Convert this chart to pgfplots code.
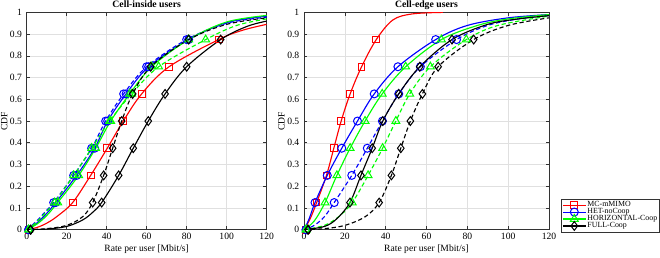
\documentclass[border=0pt]{standalone}
\usepackage{fontspec}
\setmainfont{Liberation Serif}
\usepackage{pgfplots}
\pgfplotsset{compat=1.18}
\pgfplotsset{
 cdfaxis/.style={
  scale only axis, height=163pt, xmin=0, xmax=120, ymin=0, ymax=1,
  xtick={0,20,40,60,80,100,120},
  ytick={0,0.1,0.2,0.3,0.4,0.5,0.6,0.7,0.8,0.9,1},
  yticklabels={0,0.1,0.2,0.3,0.4,0.5,0.6,0.7,0.8,0.9,1},
  grid=major, major grid style={black!12, line width=0.4pt},
  axis line style={black!80, line width=0.45pt},
  tick style={black!80, line width=0.45pt}, major tick length=2.5pt,
  tick align=inside,
  font=\fontsize{7.2}{8.5}\selectfont,
  /pgf/number format/assume math mode=true,
  xlabel={Rate per user [Mbit/s]}, ylabel={CDF},
  title style={font=\fontsize{7.3}{8.5}\selectfont\bfseries, yshift=-7.5pt, text height=5pt, text depth=1.6pt},
  xlabel style={yshift=3pt}, ylabel style={yshift=-5pt},
  xticklabel style={yshift=1pt},
  every axis plot/.append style={line width=0.85pt},
 },
 ln/.style={smooth, tension=0.55, no markers, forget plot},
 mk/.style={only marks, forget plot, mark options={solid, line width=0.75pt}},
 dsh/.style={dash pattern=on 3.2pt off 2pt},
 msq/.style={mark=square, mark size=2.5pt},
 mci/.style={mark=o, mark size=3pt},
 mtr/.style={mark=triangle, mark size=3.4pt},
 mdi/.style={mark=diamond, mark size=3.3pt},
}
\begin{document}
\begin{tikzpicture}
\path[use as bounding box] (-20pt,-20.5pt) rectangle (475pt,172.3pt);
% ---------------- Cell-inside ----------------
\begin{axis}[cdfaxis, width=180pt, title={Cell-inside users}, at={(0pt,0pt)}, anchor=south west]
% MC-mMIMO
\addplot[red, ln] coordinates {(0,0) (5,0.01) (10,0.03) (15,0.06) (23,0.125) (32,0.25) (40.3,0.375) (48.3,0.5) (57.5,0.625) (71.2,0.75) (96,0.875) (108,0.918) (120,0.945)};
\addplot[red, mk, msq] coordinates {(1,0) (23,0.125) (32,0.25) (40.3,0.375) (48.3,0.5) (57.5,0.625) (71.2,0.75) (96,0.875)};
% HET-noCoop solid
\addplot[blue, ln] coordinates {(0,0) (5,0.03) (10,0.075) (14.5,0.125) (25,0.25) (34,0.375) (40.5,0.5) (49.7,0.625) (61,0.75) (81,0.875) (100,0.953) (120,0.983)};
\addplot[blue, mk, mci] coordinates {(1,0) (14.5,0.125) (25,0.25) (34,0.375) (40.5,0.5) (49.7,0.625) (61,0.75) (81,0.875)};
% HET-noCoop dashed
\addplot[blue, ln, dsh] coordinates {(0,0) (5,0.04) (10,0.09) (13.5,0.125) (23.5,0.25) (32.5,0.375) (39.5,0.5) (48.5,0.625) (60,0.75) (80,0.875) (100,0.95) (120,0.978)};
\addplot[blue, mk, mci] coordinates {(1,0) (13.5,0.125) (23.5,0.25) (32.5,0.375) (39.5,0.5) (48.5,0.625) (60,0.75) (80,0.875)};
% HORIZONTAL-Coop solid
\addplot[green, ln] coordinates {(0,0) (5,0.025) (10,0.065) (15.5,0.125) (26,0.25) (34.5,0.375) (42,0.5) (51.5,0.625) (62.5,0.75) (81,0.875) (100,0.956) (120,0.986)};
\addplot[green, mk, mtr] coordinates {(1,0) (15.5,0.125) (26,0.25) (34.5,0.375) (42,0.5) (51.5,0.625) (62.5,0.75) (81,0.875)};
% HORIZONTAL-Coop dashed
\addplot[green, ln, dsh] coordinates {(0,0) (5,0.035) (10,0.085) (14,0.125) (23.5,0.25) (32.5,0.375) (41.5,0.5) (52.5,0.625) (66,0.75) (89.5,0.875) (105,0.94) (120,0.97)};
\addplot[green, mk, mtr] coordinates {(1,0) (14,0.125) (23.5,0.25) (32.5,0.375) (41.5,0.5) (52.5,0.625) (66,0.75) (89.5,0.875)};
% FULL-Coop dashed
\addplot[black, ln, dsh] coordinates {(0,0) (10,0.005) (20,0.02) (28,0.06) (33,0.125) (38.5,0.25) (43,0.375) (47.5,0.5) (53,0.625) (62,0.75) (81,0.875) (100,0.945) (120,0.975)};
\addplot[black, mk, mdi] coordinates {(2,0) (33,0.125) (38.5,0.25) (43,0.375) (47.5,0.5) (53,0.625) (62,0.75) (81,0.875)};
% FULL-Coop solid
\addplot[black, ln] coordinates {(0,0) (10,0.003) (20,0.015) (28,0.045) (33,0.08) (37.5,0.125) (46,0.25) (53.3,0.375) (60.8,0.5) (69.2,0.625) (80,0.75) (97,0.875) (110,0.935) (120,0.96)};
\addplot[black, mk, mdi] coordinates {(2,0) (37.5,0.125) (46,0.25) (53.3,0.375) (60.8,0.5) (69.2,0.625) (80,0.75) (97,0.875)};
\end{axis}
% ---------------- Cell-edge ----------------
\begin{axis}[cdfaxis, width=183.75pt, title={Cell-edge users}, at={(208pt,0pt)}, anchor=south west,
  legend style={at={(1.049,-0.011)}, anchor=south west, draw=black!80, line width=0.45pt,
    font=\fontsize{5.9}{6.5}\selectfont, inner sep=0.8pt, row sep=-2pt,
    nodes={inner sep=0.9pt}},
  legend cell align=left]
\addlegendimage{red, line width=0.85pt, msq, mark options={solid, line width=0.75pt}}
\addlegendentry{MC-mMIMO}
\addlegendimage{blue, line width=0.85pt, mci, mark options={solid, line width=0.75pt}}
\addlegendentry{HET-noCoop}
\addlegendimage{green, line width=0.85pt, mtr, mark options={solid, line width=0.75pt}}
\addlegendentry{HORIZONTAL-Coop}
\addlegendimage{black, line width=0.85pt, mdi, mark options={solid, line width=0.75pt}}
\addlegendentry{FULL-Coop}
% MC-mMIMO
\addplot[red, ln] coordinates {(0,0) (3,0.05) (6.2,0.125) (11,0.25) (14.6,0.375) (18.2,0.5) (22.6,0.625) (28.2,0.75) (35.4,0.875) (43.5,0.965) (53,0.993) (68,1)};
\addplot[red, mk, msq] coordinates {(1,0) (6.2,0.125) (11,0.25) (14.6,0.375) (18.2,0.5) (22.6,0.625) (28.2,0.75) (35.4,0.875)};
% HET-noCoop solid
\addplot[blue, ln] coordinates {(0,0) (2.5,0.05) (5.4,0.125) (11.4,0.25) (18.5,0.375) (26.2,0.5) (34.4,0.625) (46,0.75) (64.5,0.875) (80,0.94) (100,0.975) (120,0.99)};
\addplot[blue, mk, mci] coordinates {(1,0) (5.4,0.125) (11.4,0.25) (18.5,0.375) (26.2,0.5) (34.4,0.625) (46,0.75) (64.5,0.875)};
% HET-noCoop dashed
\addplot[blue, ln, dsh] coordinates {(0,0) (5,0.02) (10,0.06) (14.8,0.125) (23.4,0.25) (31,0.375) (38.4,0.5) (46.4,0.625) (57,0.75) (74.7,0.875) (90,0.94) (105,0.97) (120,0.985)};
\addplot[blue, mk, mci] coordinates {(1,0) (14.8,0.125) (23.4,0.25) (31,0.375) (38.4,0.5) (46.4,0.625) (57,0.75) (74.7,0.875)};
% HORIZONTAL-Coop solid
\addplot[green, ln] coordinates {(0,0) (5,0.04) (10.3,0.125) (16.1,0.25) (22.6,0.375) (29.9,0.5) (38.3,0.625) (49.8,0.75) (67.3,0.875) (85,0.94) (100,0.97) (120,0.99)};
\addplot[green, mk, mtr] coordinates {(1,0) (10.3,0.125) (16.1,0.25) (22.6,0.375) (29.9,0.5) (38.3,0.625) (49.8,0.75) (67.3,0.875)};
% HORIZONTAL-Coop dashed
\addplot[green, ln, dsh] coordinates {(0,0) (10,0.02) (17,0.06) (23.6,0.125) (31.4,0.25) (38.5,0.375) (45,0.5) (51.8,0.625) (61.9,0.75) (79.5,0.875) (95,0.94) (120,0.983)};
\addplot[green, mk, mtr] coordinates {(1,0) (23.6,0.125) (31.4,0.25) (38.5,0.375) (45,0.5) (51.8,0.625) (61.9,0.75) (79.5,0.875)};
% FULL-Coop solid
\addplot[black, ln] coordinates {(0,0) (10,0.015) (16,0.05) (22.5,0.125) (27.9,0.25) (33.4,0.375) (38.6,0.5) (46.4,0.625) (56.7,0.75) (72.5,0.875) (90,0.945) (105,0.97) (120,0.985)};
\addplot[black, mk, mdi] coordinates {(2,0) (22.5,0.125) (27.9,0.25) (33.4,0.375) (38.6,0.5) (46.4,0.625) (56.7,0.75) (72.5,0.875)};
% FULL-Coop dashed
\addplot[black, ln, dsh] coordinates {(0,0) (10,0.005) (20,0.02) (30,0.06) (36.8,0.125) (42.8,0.25) (47.4,0.375) (52.1,0.5) (58,0.625) (65.7,0.75) (83.1,0.875) (100,0.94) (120,0.975)};
\addplot[black, mk, mdi] coordinates {(2,0) (36.8,0.125) (42.8,0.25) (47.4,0.375) (52.1,0.5) (58,0.625) (65.7,0.75) (83.1,0.875)};
\end{axis}
\end{tikzpicture}
\end{document}
